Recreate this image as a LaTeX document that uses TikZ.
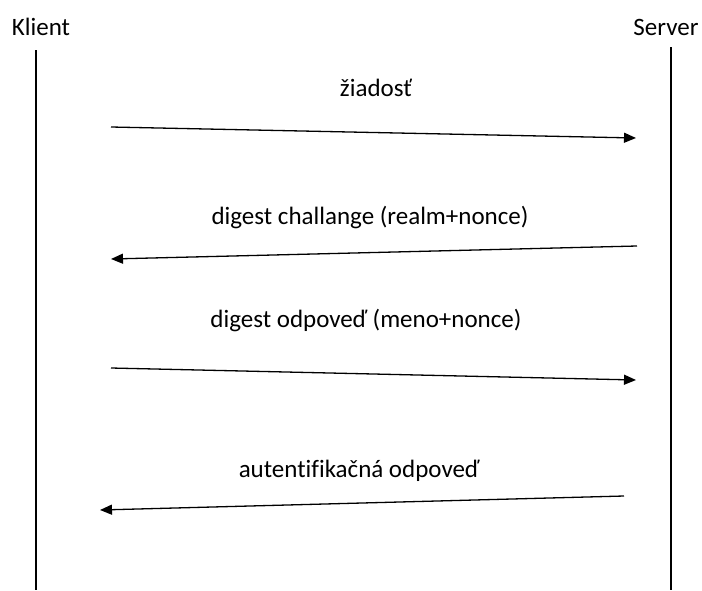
\documentclass[tikz,border=0pt]{standalone}
\usepackage{fontspec}
\setmainfont[Ligatures=NoCommon]{Carlito}
\usetikzlibrary{arrows.meta}
\begin{document}
\begin{tikzpicture}[x=1pt,y=-1pt,
  lifeline/.style={line width=2.8pt},
  msg/.style={line width=1.3pt,-{Triangle[length=12pt,width=10pt]}},
  lbl/.style={font=\fontsize{25}{30}\selectfont,inner sep=0pt,anchor=base},
  actor/.style={font=\fontsize{25}{30}\selectfont,inner sep=0pt,anchor=base}]
\useasboundingbox (0,0) rectangle (702,590);
% actors and lifelines
\node[actor] (klient) at (41,35) {Klient};
\node[actor] (server) at (666,35) {Server};
\coordinate (kTop) at (36,50);
\coordinate (kBot) at (36,590);
\coordinate (sTop) at (671,47);
\coordinate (sBot) at (671,590);
\draw[lifeline] (kTop) -- (kBot);
\draw[lifeline] (sTop) -- (sBot);
% messages
\coordinate (m1a) at (111,127);
\coordinate (m1b) at (636,138);
\coordinate (m2a) at (637,246);
\coordinate (m2b) at (111,259);
\coordinate (m3a) at (111,368);
\coordinate (m3b) at (636,380);
\coordinate (m4a) at (624,496);
\coordinate (m4b) at (100,510);
\draw[msg] (m1a) -- (m1b);
\draw[msg] (m2a) -- (m2b);
\draw[msg] (m3a) -- (m3b);
\draw[msg] (m4a) -- (m4b);
\node[lbl] (l1) at (376,96) {žiadosť};
\node[lbl] (l2) at (370,224) {digest challange (realm+nonce)};
\node[lbl] (l3) at (366,327) {digest odpoveď (meno+nonce)};
\node[lbl] (l4) at (359,477) {autentifikačná odpoveď};
\end{tikzpicture}
\end{document}
